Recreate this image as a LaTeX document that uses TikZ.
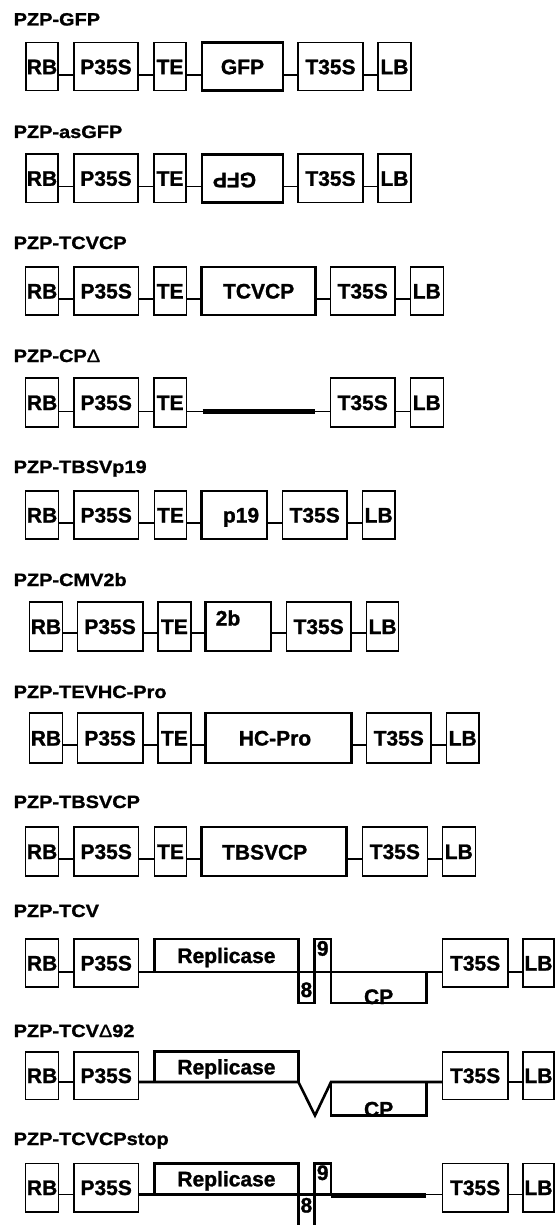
\documentclass[tikz,border=0pt]{standalone}
\usepackage{fontspec}
\setmainfont{Liberation Sans}
\newfontfamily\ttlfamily{Liberation Sans}[FakeStretch=1.12,FakeBold=1.2]
\newfontfamily\boxfamily{Liberation Sans}[FakeBold=1.2]
\newcommand\boxfnt{\boxfamily\fontsize{21}{22}\selectfont\bfseries}
\newcommand\ttlfnt{\ttlfamily\fontsize{17.8}{20}\selectfont\bfseries}
\tikzset{
 bxthin/.style={draw, line width=1.6pt, inner sep=0pt, outer sep=0pt, font=\boxfnt, text height=15pt, text depth=0pt},
 bxthick/.style={bxthin, line width=2.7pt},
 conn/.style={line width=1.6pt},
 tline/.style={line width=2.6pt},
 stopbar/.style={line width=5.5pt},
 ttl/.style={anchor=base west, inner sep=0pt, font=\ttlfnt},
 lbl/.style={inner sep=0pt, font=\boxfnt, text height=15pt, text depth=0pt},
}
\newcommand\bx[7][bxthin]{\node[#1, anchor=north west, minimum width={\dimexpr#4pt-#3pt\relax}, minimum height={\dimexpr#6pt-#5pt\relax}] (#2) at (#3,#5) {#7};}
\newcommand\chain[7]{\draw[conn] (#2.east|-#1)--(#3.west|-#1) (#3.east|-#1)--(#4.west|-#1) (#4.east|-#1)--(#5.west|-#1) (#5.east|-#1)--(#6.west|-#1) (#6.east|-#1)--(#7.west|-#1);}
\begin{document}
\begin{tikzpicture}[x=1pt,y=-1pt]
\path[fill=white, use as bounding box] (0,0) rectangle (557,1225);
% Row 1
\node[ttl] (t1) at (13.5,25.5) {PZP-GFP};
\bx{rb1}{26}{58}{42.7}{90.7}{RB}
\bx{ps1}{74}{138}{42.7}{90.7}{P35S}
\bx{te1}{154}{186}{42.7}{90.7}{TE}
\bx[bxthick]{g1}{202}{283}{42.7}{90.7}{GFP}
\bx{ts1}{298}{363}{42.7}{90.7}{T35S}
\bx{lb1}{378}{411}{42.7}{90.7}{LB}
\coordinate (c1) at (0,75);
\chain{c1}{rb1}{ps1}{te1}{g1}{ts1}{lb1}
% Row 2
\node[ttl] (t2) at (13.5,138) {PZP-asGFP};
\bx{rb2}{26}{58}{154.3}{202.3}{RB}
\bx{ps2}{74}{138}{154.3}{202.3}{P35S}
\bx{te2}{154}{186}{154.3}{202.3}{TE}
\bx[bxthick]{g2}{202}{283}{154.3}{202.3}{}
\node[lbl, rotate=180] (g2t) at ([xshift=-8pt,yshift=-2pt]g2.center) {GFP};
\bx{ts2}{298}{363}{154.3}{202.3}{T35S}
\bx{lb2}{378}{411}{154.3}{202.3}{LB}
\coordinate (c2) at (0,186.7);
\chain{c2}{rb2}{ps2}{te2}{g2}{ts2}{lb2}
% Row 3
\node[ttl] (t3) at (13.5,249) {PZP-TCVCP};
\bx{rb3}{25.6}{58.6}{267}{315}{RB}
\bx{ps3}{73.9}{138.5}{267}{315}{P35S}
\bx{te3}{153.8}{186.5}{267}{315}{TE}
\bx[bxthick]{g3}{201.8}{315.5}{267}{315}{TCVCP}
\bx{ts3}{330.4}{395}{267}{315}{T35S}
\bx{lb3}{410.3}{443.3}{267}{315}{LB}
\coordinate (c3) at (0,299);
\chain{c3}{rb3}{ps3}{te3}{g3}{ts3}{lb3}
% Row 4
\node[ttl] (t4) at (13.5,362) {PZP-CP{\mdseries Δ}};
\bx{rb4}{25.6}{58.6}{378}{427}{RB}
\bx{ps4}{73.9}{138.5}{378}{427}{P35S}
\bx{te4}{153.8}{186.5}{378}{427}{TE}
\bx{ts4}{330.4}{395}{378}{427}{T35S}
\bx{lb4}{410.3}{443.3}{378}{427}{LB}
\coordinate (c4) at (0,411.5);
\coordinate (b4a) at (202.5,411.5);
\coordinate (b4b) at (314.7,411.5);
\draw[conn] (rb4.east|-c4)--(ps4.west|-c4) (ps4.east|-c4)--(te4.west|-c4) (te4.east|-c4)--(b4a) (b4b)--(ts4.west|-c4) (ts4.east|-c4)--(lb4.west|-c4);
\draw[stopbar] (b4a)--(b4b);
% Row 5
\node[ttl] (t5) at (13.5,473) {PZP-TBSVp19};
\bx{rb5}{25.6}{58.6}{491}{539}{RB}
\bx{ps5}{73.9}{138.5}{491}{539}{P35S}
\bx{te5}{154.5}{186.5}{491}{539}{TE}
\bx[bxthick]{g5}{201.8}{267}{491}{539}{}
\node[lbl] (g5t) at (241,515) {p19};
\bx{ts5}{282.4}{347}{491}{539}{T35S}
\bx{lb5}{362.3}{395}{491}{539}{LB}
\coordinate (c5) at (0,523);
\chain{c5}{rb5}{ps5}{te5}{g5}{ts5}{lb5}
% Row 6
\node[ttl] (t6) at (13.5,586) {PZP-CMV2b};
\bx{rb6}{29.5}{62.5}{602}{651}{RB}
\bx{ps6}{77.4}{142.8}{602}{651}{P35S}
\bx{te6}{158}{190.8}{602}{651}{TE}
\bx[bxthick]{g6}{205.3}{271}{602}{651}{}
\node[lbl] (g6t) at (228,618) {2b};
\bx{ts6}{286.3}{351}{602}{651}{T35S}
\bx{lb6}{366.6}{398.6}{602}{651}{LB}
\coordinate (c6) at (0,633);
\chain{c6}{rb6}{ps6}{te6}{g6}{ts6}{lb6}
% Row 7
\node[ttl] (t7) at (13.5,698) {PZP-TEVHC-Pro};
\bx{rb7}{29.5}{62.5}{713}{763}{RB}
\bx{ps7}{77.4}{142.8}{713}{763}{P35S}
\bx{te7}{158}{190.8}{713}{763}{TE}
\bx[bxthick]{g7}{205.3}{351.7}{713}{763}{}
\node[lbl] (g7t) at (275,738) {HC-Pro};
\bx{ts7}{366.6}{430.9}{713}{763}{T35S}
\bx{lb7}{446.5}{478.9}{713}{763}{LB}
\coordinate (c7) at (0,745);
\chain{c7}{rb7}{ps7}{te7}{g7}{ts7}{lb7}
% Row 8
\node[ttl] (t8) at (13.5,808) {PZP-TBSVCP};
\bx{rb8}{25.6}{58.6}{827}{876}{RB}
\bx{ps8}{73.9}{138.5}{827}{876}{P35S}
\bx{te8}{154.5}{186.5}{827}{876}{TE}
\bx[bxthick]{g8}{201.8}{346.4}{827}{876}{}
\node[lbl] (g8t) at (264.7,852) {TBSVCP};
\bx{ts8}{362.3}{427.4}{827}{876}{T35S}
\bx{lb8}{442.3}{475.3}{827}{876}{LB}
\coordinate (c8) at (0,859);
\chain{c8}{rb8}{ps8}{te8}{g8}{ts8}{lb8}
% Row 9
\node[ttl] (t9) at (13.5,917) {PZP-TCV};
\bx{rb9}{25.6}{58.6}{939}{987}{RB}
\bx{ps9}{73.9}{138.5}{939}{987}{P35S}
\bx[bxthick]{rep9}{154.5}{298.4}{939}{972}{Replicase}
\bx[bxthick]{e9}{298.4}{314.4}{972}{1003}{}
\node[lbl] (e9t) at ([yshift=-2pt]e9.center) {8};
\bx[bxthick]{n9}{314.4}{331}{939}{972}{}
\node[lbl, anchor=north] (n9t) at ([yshift=-1.5pt]n9.north) {9};
\bx[bxthick]{cp9}{331}{426.3}{972}{1003}{}
\node[lbl, anchor=base] (cp9t) at ([yshift=-1pt]cp9.south) {CP};
\bx{ts9}{442.3}{508}{939}{987}{T35S}
\bx{lb9}{523}{554}{939}{987}{LB}
\coordinate (c9) at (0,972);
\draw[conn] (rb9.east|-c9)--(ps9.west|-c9) (ts9.east|-c9)--(lb9.west|-c9);
\draw[tline] (ps9.east|-c9)--(ts9.west|-c9);
% Row 10
\node[ttl] (t10) at (13.5,1037) {PZP-TCV{\mdseries Δ}92};
\bx{rb10}{25.6}{58.6}{1051.7}{1099.3}{RB}
\bx{ps10}{73.9}{138.5}{1051.7}{1099.3}{P35S}
\bx[bxthick]{rep10}{154.5}{298.4}{1051.7}{1082}{Replicase}
\bx[bxthick]{cp10}{331}{426.3}{1082}{1115.5}{}
\node[lbl, anchor=base] (cp10t) at ([yshift=-1pt]cp10.south) {CP};
\bx{ts10}{442.3}{508}{1051.7}{1099.3}{T35S}
\bx{lb10}{523}{554}{1051.7}{1099.3}{LB}
\coordinate (c10) at (0,1082);
\coordinate (v10) at (315,1115.5);
\draw[conn] (rb10.east|-c10)--(ps10.west|-c10) (ts10.east|-c10)--(lb10.west|-c10);
\draw[tline] (ps10.east|-c10) -- (rep10.south east) -- (v10) -- (cp10.north west) -- (ts10.west|-c10);
% Row 11
\node[ttl] (t11) at (13.5,1145) {PZP-TCVCPstop};
\bx{rb11}{25.6}{58.6}{1163.3}{1211.7}{RB}
\bx{ps11}{73.9}{138.5}{1163.3}{1211.7}{P35S}
\bx[bxthick]{rep11}{154.5}{298.4}{1163.3}{1194.3}{Replicase}
\bx[bxthick]{n11}{314.4}{331}{1163.3}{1194.3}{}
\node[lbl, anchor=north] (n11t) at ([yshift=-1.5pt]n11.north) {9};
\bx[bxthick]{e11}{298.4}{314.4}{1194.3}{1240}{}
\node[lbl] (e11t) at (306.4,1205) {8};
\bx{ts11}{442.3}{508}{1163.3}{1211.7}{T35S}
\bx{lb11}{523}{554}{1163.3}{1211.7}{LB}
\coordinate (c11) at (0,1194.3);
\coordinate (s11a) at (331,1195.3);
\coordinate (s11b) at (426.3,1195.3);
\draw[conn] (rb11.east|-c11)--(ps11.west|-c11) (s11b|-c11)--(ts11.west|-c11) (ts11.east|-c11)--(lb11.west|-c11);
\draw[tline] (ps11.east|-c11)--(n11.south east);
\draw[stopbar] (s11a)--(s11b);
\end{tikzpicture}
\end{document}
